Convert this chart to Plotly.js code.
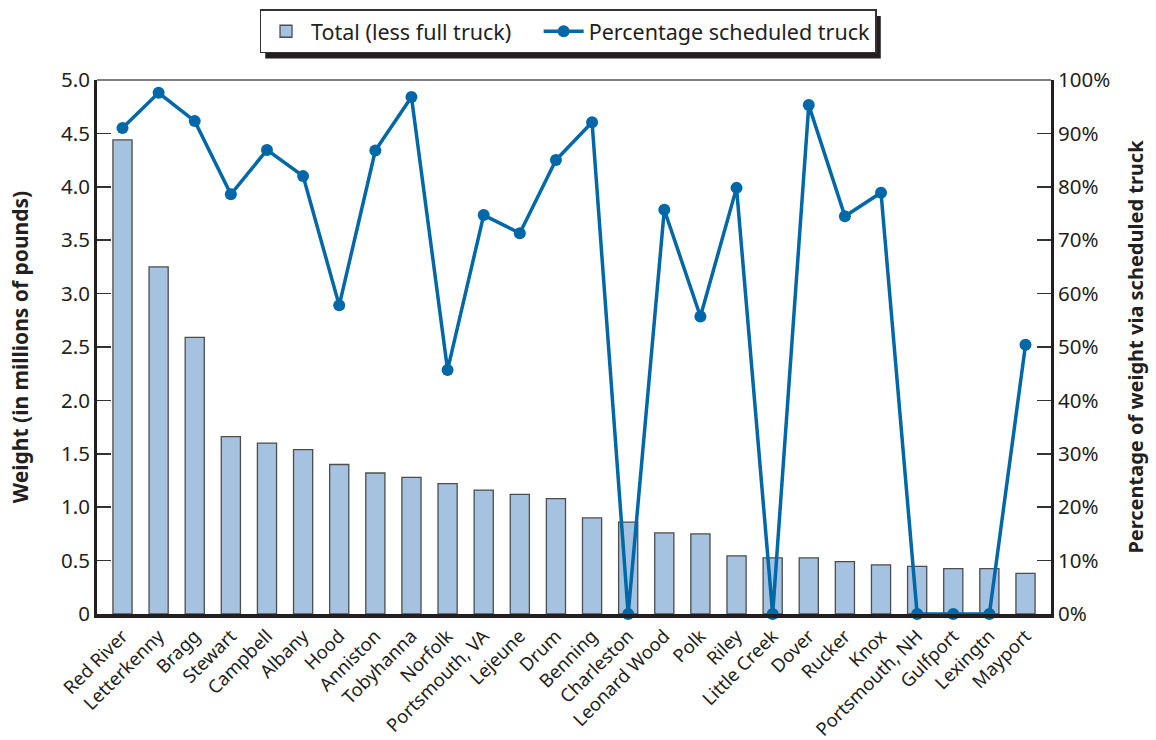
<!DOCTYPE html>
<html>
<head>
<meta charset="utf-8">
<script src="https://cdn.plot.ly/plotly-3.0.1.min.js"></script>
<style>html,body{margin:0;padding:0;background:#fff;}#chart{width:1156px;height:740px;}</style>
</head>
<body>
<div id="chart"></div>
<script>
const categories = ["Red River","Letterkenny","Bragg","Stewart","Campbell","Albany","Hood","Anniston","Tobyhanna","Norfolk","Portsmouth, VA","Lejeune","Drum","Benning","Charleston","Leonard Wood","Polk","Riley","Little Creek","Dover","Rucker","Knox","Portsmouth, NH","Gulfport","Lexingtn","Mayport"];
const totalWeight = [4.44,3.25,2.59,1.66,1.60,1.54,1.40,1.32,1.28,1.22,1.16,1.12,1.08,0.90,0.86,0.76,0.75,0.545,0.525,0.525,0.49,0.46,0.445,0.425,0.425,0.38];
const pctScheduled = [91.0,97.6,92.3,78.6,86.9,82.0,57.8,86.8,96.8,45.7,74.7,71.3,85.0,92.1,0,75.7,55.7,79.8,0,95.3,74.5,78.9,0,0,0,50.4];
const leftTickVals = [0,0.5,1,1.5,2,2.5,3,3.5,4,4.5,5];
const leftTickText = ["0","0.5","1.0","1.5","2.0","2.5","3.0","3.5","4.0","4.5","5.0"];
const seriesNames = ["Total (less full truck)", "Percentage scheduled truck"];

const FONT = "Noto Sans, Open Sans, sans-serif";
const TXT = "#231f20";
const PAD = "\u00a0\u00a0\u00a0\u00a0";

const traces = [
  {
    type: "bar", name: seriesNames[0] + PAD,
    x: categories, y: totalWeight, yaxis: "y",
    width: 0.53,
    marker: {color: "#a5c3e0", line: {color: "#4d4d4d", width: 1.3}}
  },
  {
    type: "scatter", mode: "lines+markers", name: seriesNames[1],
    x: categories, y: pctScheduled, yaxis: "y2",
    line: {color: "#0068a8", width: 3.5},
    marker: {color: "#0068a8", size: 12},
    cliponaxis: false
  }
];

const layout = {
  width: 1156, height: 740,
  margin: {l: 97, r: 105, t: 80, b: 126},
  paper_bgcolor: "#fff", plot_bgcolor: "#fff",
  font: {family: FONT, color: TXT, size: 18},
  showlegend: true,
  legend: {
    orientation: "h", xref: "container", yref: "container",
    x: 0.2245, xanchor: "left", y: 0.9875, yanchor: "top",
    bgcolor: "#fff", bordercolor: "#333", borderwidth: 1.5,
    font: {family: FONT, size: 21.5, color: TXT},
    itemwidth: 40, tracegroupgap: 0
  },
  xaxis: {
    type: "category", range: [-0.706, 25.706],
    tickangle: -45, ticks: "", showgrid: false, zeroline: false,
    showline: true, linecolor: "#231f20", linewidth: 4,
    tickfont: {family: FONT, size: 18.5, color: TXT}
  },
  yaxis: {
    range: [0, 5], tickvals: leftTickVals, ticktext: leftTickText,
    ticks: "inside", ticklen: 14, tickwidth: 1.5, tickcolor: "#333",
    showgrid: false, zeroline: false,
    showline: true, linecolor: "#231f20", linewidth: 3,
    tickfont: {family: FONT, size: 20.5, color: TXT},
    title: {text: "Weight (in millions of pounds)", font: {family: FONT, size: 21, color: TXT, weight: "bold"}, standoff: 27}
  },
  yaxis2: {
    overlaying: "y", side: "right", range: [0, 100], dtick: 10, ticksuffix: "%",
    ticks: "inside", ticklen: 14, tickwidth: 1.5, tickcolor: "#333",
    showgrid: false, zeroline: false,
    showline: true, linecolor: "#231f20", linewidth: 3,
    tickfont: {family: FONT, size: 20.5, color: TXT},
    title: {text: "Percentage of weight via scheduled truck", font: {family: FONT, size: 20, color: TXT, weight: "bold"}, standoff: 20}
  },
  shapes: [
    {type: "line", xref: "paper", yref: "paper", x0: 0, x1: 1, y0: 1, y1: 1, line: {color: "#555", width: 1.5}}
  ]
};

Plotly.newPlot("chart", traces, layout, {displayModeBar: false, staticPlot: true}).then(function(gd){
  const bg = gd.querySelector(".legend .bg");
  if (bg) {
    const r = bg.getBoundingClientRect();
    const c = gd.getBoundingClientRect();
    const ps = gd._fullLayout._size;
    const x0 = r.left - c.left + 5, x1 = r.right - c.left + 5;
    const y0 = r.top - c.top + 6, y1 = r.bottom - c.top + 6;
    const toPX = function(px){ return (px - ps.l) / ps.w; };
    const toPY = function(py){ return (ps.t + ps.h - py) / ps.h; };
    const shapes = layout.shapes.concat([{
      type: "rect", xref: "paper", yref: "paper",
      x0: toPX(x0), x1: toPX(x1), y0: toPY(y1), y1: toPY(y0),
      fillcolor: "#231f20", line: {width: 0}
    }]);
    Plotly.relayout(gd, {shapes: shapes});
  }
});
</script>
</body>
</html>
